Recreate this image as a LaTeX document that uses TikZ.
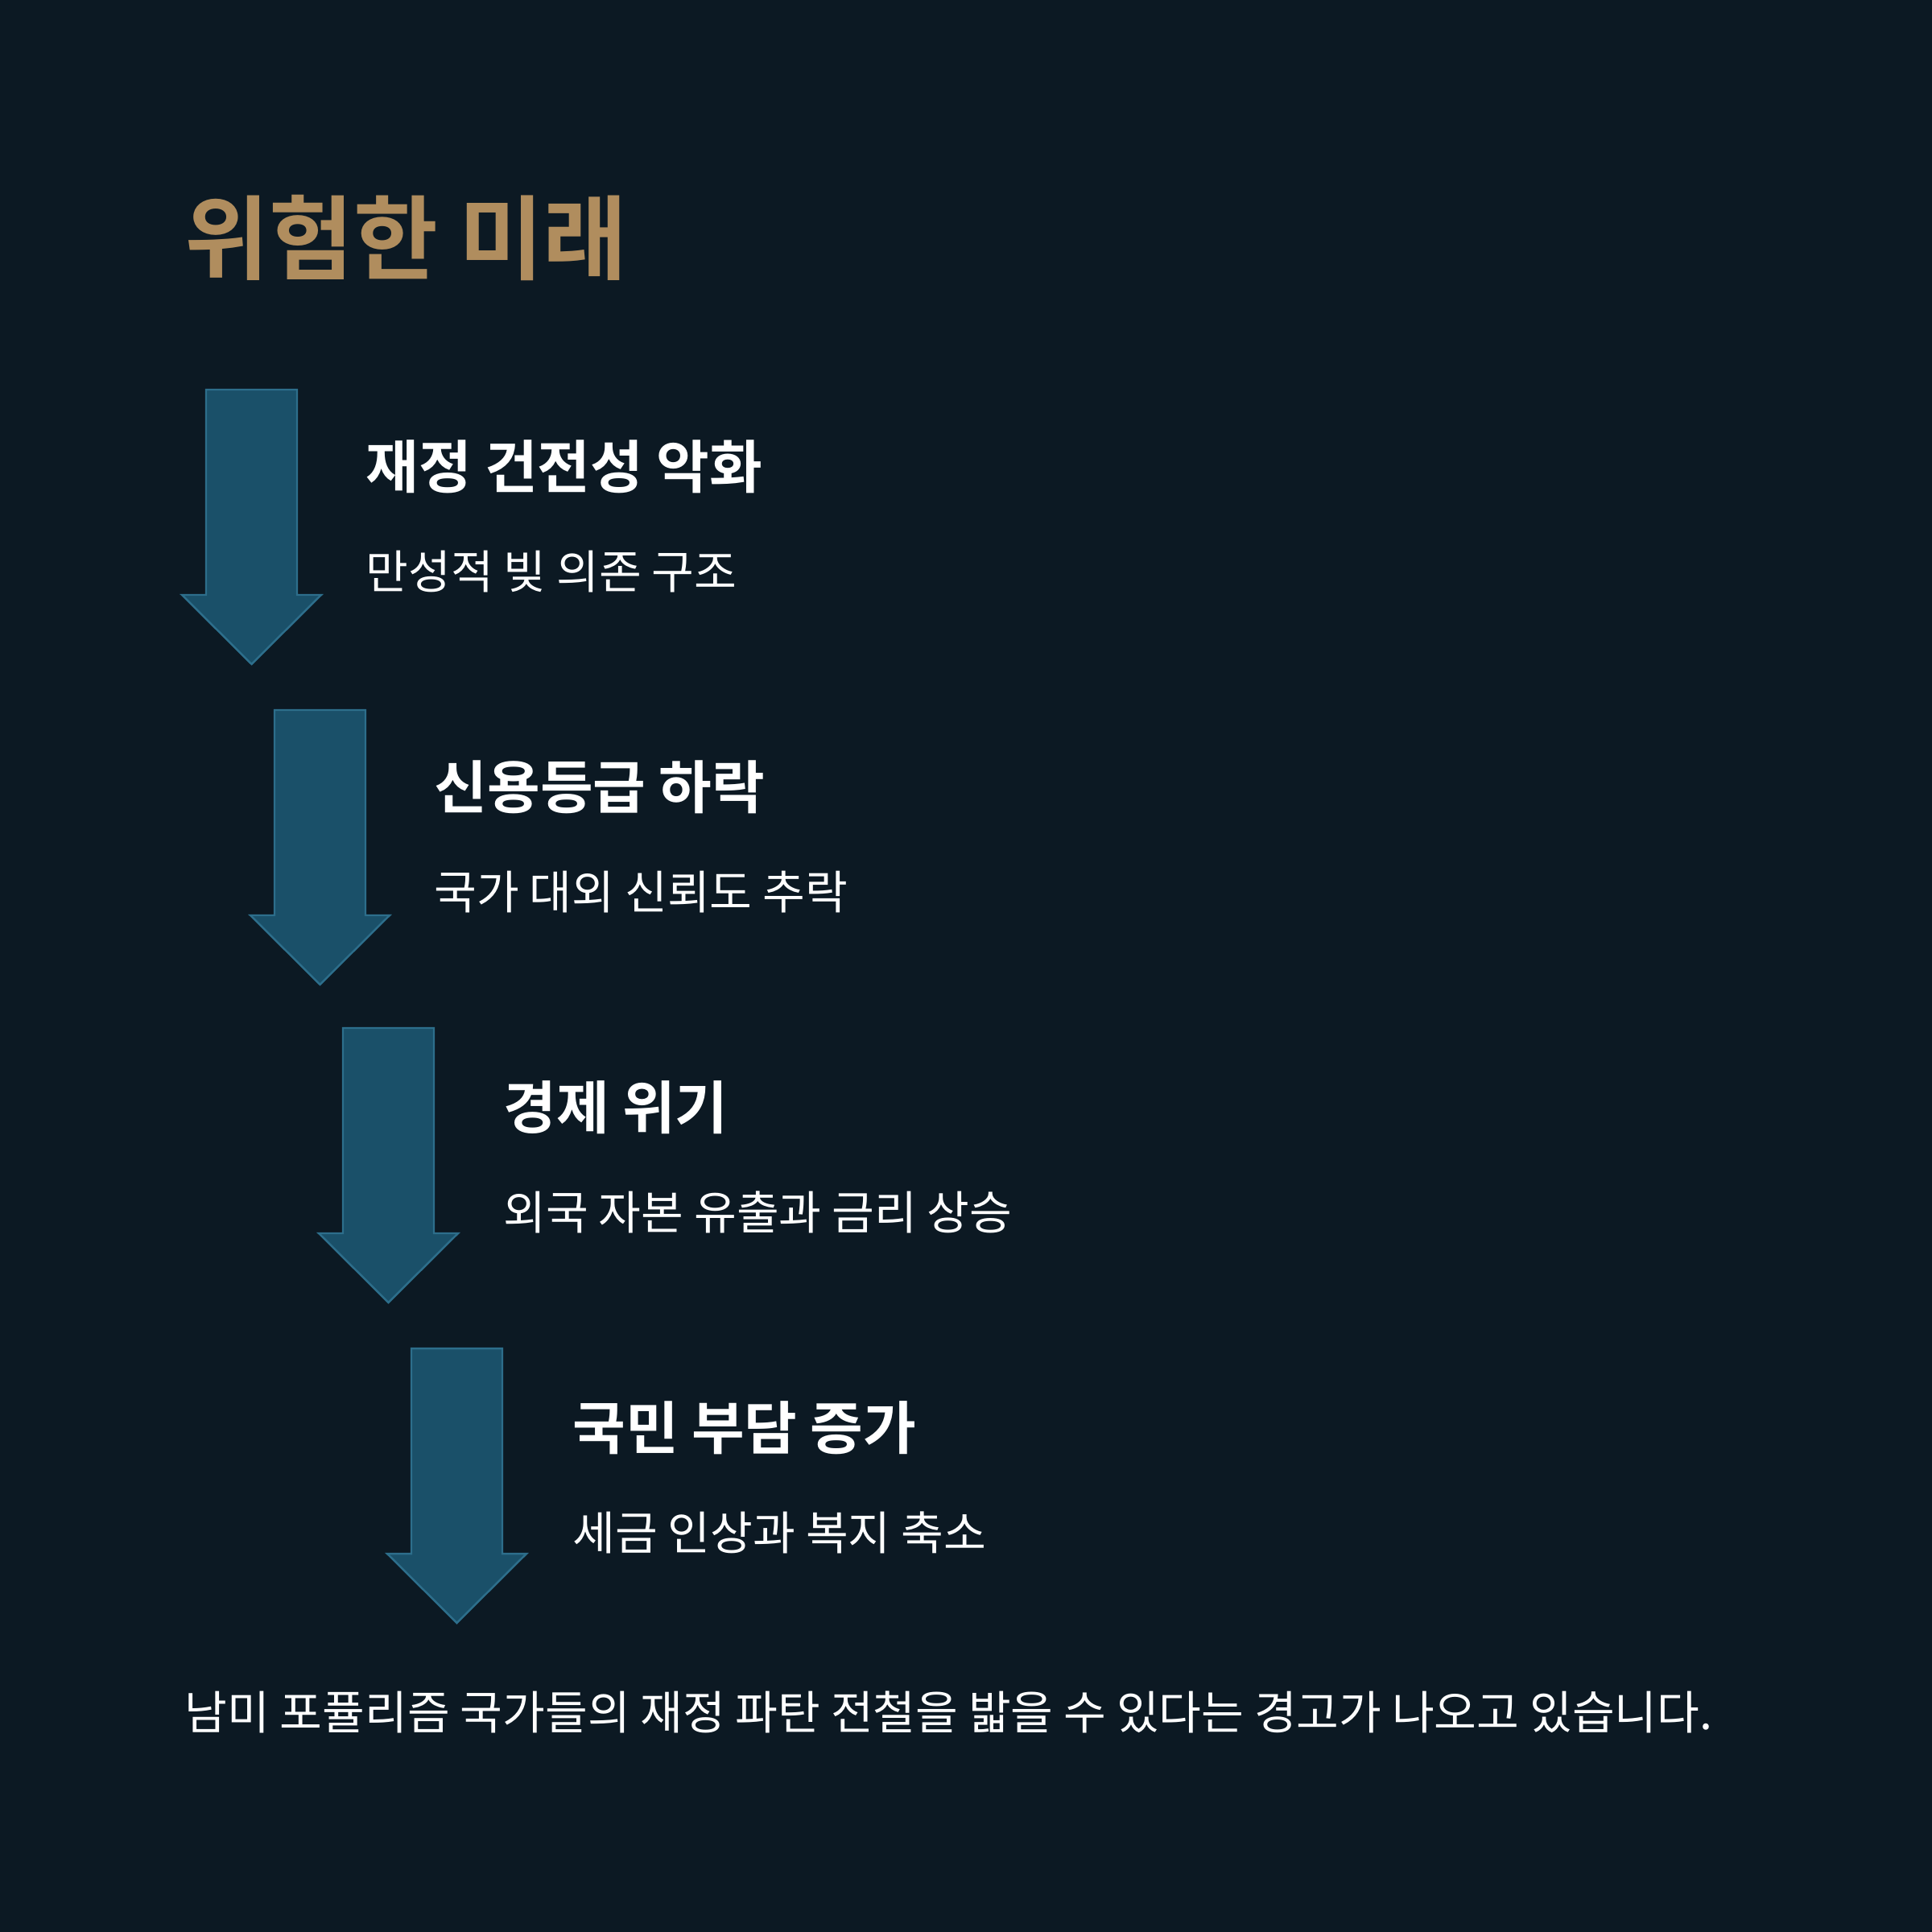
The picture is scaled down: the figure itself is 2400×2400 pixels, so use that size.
\documentclass[tikz,border=0pt]{standalone}
\usepackage{fontspec}
\newfontfamily\krreg{Noto Sans CJK KR}
\newfontfamily\krbold{Noto Sans CJK KR Bold}
\definecolor{bgc}{HTML}{0C1923}
\definecolor{titlec}{HTML}{B08D5E}
\definecolor{arrfill}{HTML}{1A5069}
\definecolor{arrdraw}{HTML}{2D6E8B}
\tikzset{
  titletext/.style={inner sep=0pt, anchor=base west, text=titlec, font=\krbold\fontsize{32.4pt}{33pt}\selectfont},
  headtext/.style={inner sep=0pt, anchor=base west, text=white, font=\krbold\fontsize{20.3pt}{21pt}\selectfont},
  subtext/.style={inner sep=0pt, anchor=base west, text=white, font=\krreg\fontsize{16.3pt}{17pt}\selectfont},
  arrowbody/.style={fill=arrfill, draw=arrdraw, line width=0.7pt, line join=miter},
  downarr/.pic={\path[arrowbody] (-56.5,0) -- (56.5,0) -- (56.5,255) -- (86.5,255) -- (0,341) -- (-86.5,255) -- (-56.5,255) -- cycle;}
}
\begin{document}
\begin{tikzpicture}[x=0.01cm,y=-0.01cm]
\fill[bgc] (0,0) rectangle (2400,2400);
\useasboundingbox (0,0) rectangle (2400,2400);
\node[titletext] (title) at (229,338) {위험한 미래};
\pic (a1) at (312.5,484) {downarr};
\pic (a2) at (397.5,882) {downarr};
\pic (a3) at (482.5,1277) {downarr};
\pic (a4) at (567.5,1675) {downarr};
\node[headtext] (h1) at (454,606) {재정 건전성 악화};
\node[subtext] (s1) at (454,731) {만성적 빚 의존 구조};
\node[headtext] (h2) at (539,1004) {신용등급 하락};
\node[subtext] (s2) at (539,1129) {국가 대외 신뢰도 추락};
\node[headtext] (h3) at (625,1402) {경제 위기};
\node[subtext] (s3) at (625,1527) {외국 자본 유출과 금리 상승};
\node[headtext] (h4) at (711,1800) {국민 부담 증가};
\node[subtext] (s4) at (711,1925) {세금 인상과 복지 축소};
\node[subtext] (foot) at (229,2148) {남미 포퓰리즘 국가들의 재정 파탄 전철을 밟을 수 있다는 경고가 나오고 있습니다.};
\end{tikzpicture}
\end{document}
